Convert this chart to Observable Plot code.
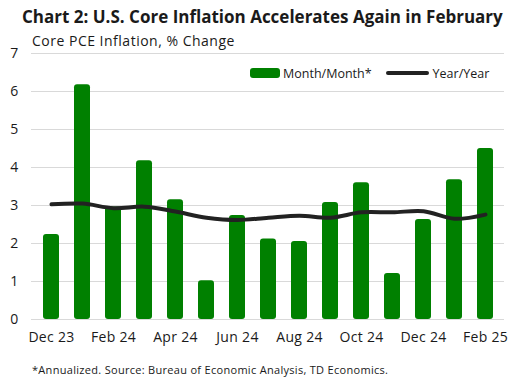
<!DOCTYPE html>
<html><head><meta charset="utf-8">
<script src="https://cdn.jsdelivr.net/npm/d3@7"></script>
<script src="https://cdn.jsdelivr.net/npm/@observablehq/plot@0.6"></script>
<style>
body{margin:0;background:#fff;font-family:"Open Sans",sans-serif;}
#wrap{position:relative;width:518px;height:386px;overflow:hidden;background:#fff}
#chart{position:absolute;left:0;top:0}
.t{position:absolute;white-space:nowrap;color:#1a1a1a}
#title{left:22px;top:5px;font-weight:700;font-size:17px;}
#sub{left:32px;top:31px;font-size:14px;letter-spacing:0.5px}
#cap{left:32px;top:362px;font-size:11px;letter-spacing:0.3px}
#legend{position:absolute;left:250px;top:64px;height:18px;display:flex;align-items:center;font-size:12.5px;color:#1a1a1a}
.sw{width:30px;height:10px;background:#008000;border-radius:3px;margin-right:3px}
.ln{width:43px;height:4px;background:#222;border-radius:2px;margin-left:14px;margin-right:4px}
</style>
</head><body>
<div id="wrap">
  <div id="chart"></div>
  <div class="t" id="title">Chart 2: U.S. Core Inflation Accelerates Again in February</div>
  <div class="t" id="sub">Core PCE Inflation, % Change</div>
  <div id="legend"><div class="sw"></div><span>Month/Month*</span><div class="ln"></div><span>Year/Year</span></div>
  <div class="t" id="cap">*Annualized. Source: Bureau of Economic Analysis, TD Economics.</div>
</div>
<script>
const months = ["Dec 23","Jan 24","Feb 24","Mar 24","Apr 24","May 24","Jun 24","Jul 24","Aug 24","Sep 24","Oct 24","Nov 24","Dec 24","Jan 25","Feb 25"];
const momValues = [2.24, 6.18, 2.96, 4.18, 3.15, 1.02, 2.74, 2.12, 2.05, 3.08, 3.60, 1.21, 2.63, 3.68, 4.50];
const yoyValues = [3.03, 3.05, 2.93, 2.97, 2.84, 2.68, 2.62, 2.68, 2.73, 2.68, 2.82, 2.82, 2.85, 2.65, 2.76];
const xTickLabels = ["Dec 23","Feb 24","Apr 24","Jun 24","Aug 24","Oct 24","Dec 24","Feb 25"];
const yTicks = [0,1,2,3,4,5,6,7];

const data = months.map((m,i)=>({month:m, mom:momValues[i], yoy:yoyValues[i]}));

const chart = Plot.plot({
  width:518, height:386,
  marginTop:53, marginBottom:67, marginLeft:31, marginRight:14,
  style:{fontFamily:"'Open Sans',sans-serif", fontSize:"14px", color:"#1a1a1a", background:"#fff", letterSpacing:"0.3px"},
  x:{type:"band", domain:months, paddingInner:0.5, paddingOuter:0.25, label:null},
  y:{domain:[0,7], label:null},
  marks:[
    Plot.ruleY(yTicks, {stroke:"#d9d9d9", strokeWidth:1}),
    Plot.barY(data, {x:"month", y:"mom", fill:"#008000", rx:3}),
    Plot.lineY(data, {x:"month", y:"yoy", stroke:"#222", strokeWidth:4, curve:"catmull-rom", strokeLinecap:"round"}),
    Plot.axisY(yTicks, {tickSize:0, tickPadding:13, fontSize:14, label:null}),
    Plot.axisX(xTickLabels, {tickSize:0, tickPadding:13, fontSize:14, label:null})
  ]
});
document.getElementById("chart").appendChild(chart);
</script>
</body></html>
